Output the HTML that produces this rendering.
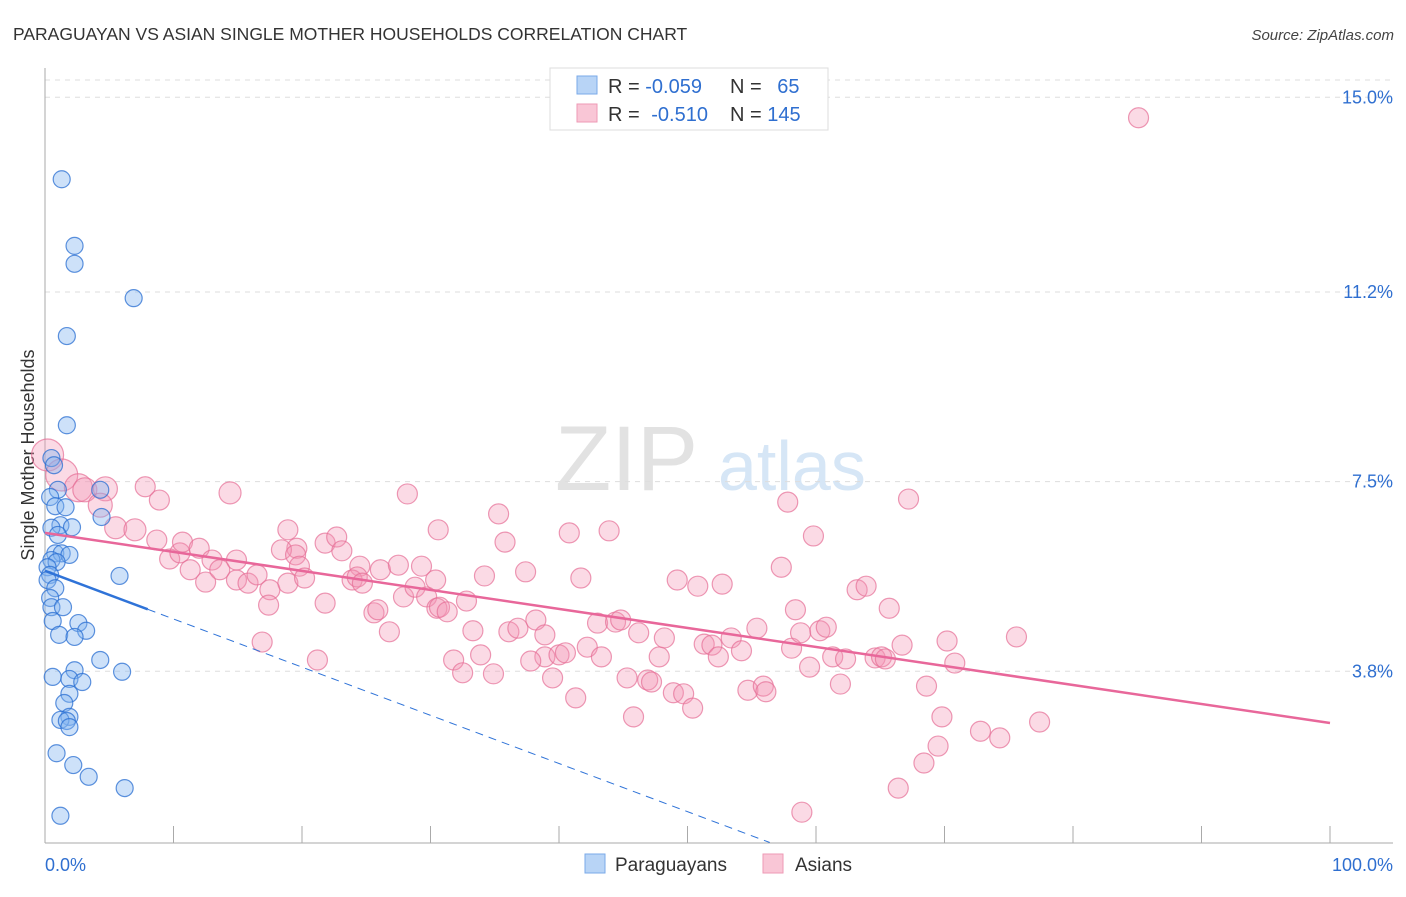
<!DOCTYPE html>
<html><head><meta charset="utf-8"><style>
body{margin:0;background:#fff;font-family:"Liberation Sans",sans-serif;}
svg text{font-family:"Liberation Sans",sans-serif;}
</style></head><body>
<svg id="chart" width="1406" height="892" viewBox="0 0 1406 892" xmlns="http://www.w3.org/2000/svg">
<text x="13" y="40" font-size="17.5" fill="#333">PARAGUAYAN VS ASIAN SINGLE MOTHER HOUSEHOLDS CORRELATION CHART</text>
<text x="1394" y="40" font-size="15" fill="#444" text-anchor="end" font-style="italic">Source: ZipAtlas.com</text>
<text x="555" y="490" font-size="92" fill="#e2e2e2" font-family="Liberation Serif">ZIP</text>
<text x="718" y="490" font-size="70" fill="#d6e6f6">atlas</text>
<text transform="translate(34,455) rotate(-90)" font-size="18" fill="#333" text-anchor="middle">Single Mother Households</text>
<g id="grid"></g>
<g id="axes"></g>
<g id="pinkpts"></g>
<g id="bluepts"></g>
<g id="lines"></g>
<g>
<rect x="550" y="68" width="278" height="62" fill="#fff" stroke="#ddd"/>
<rect x="577" y="76" width="20" height="18" fill="#b8d4f6" stroke="#7aaae8"/>
<rect x="577" y="104" width="20" height="18" fill="#f9c6d6" stroke="#ee9ab5"/>
<text x="608" y="93" font-size="20" fill="#333">R = <tspan fill="#2f6fd0">-0.059</tspan></text>
<text x="730" y="93" font-size="20" fill="#333">N = <tspan fill="#2f6fd0" dx="10">65</tspan></text>
<text x="608" y="121" font-size="20" fill="#333">R = <tspan fill="#2f6fd0" dx="6">-0.510</tspan></text>
<text x="730" y="121" font-size="20" fill="#333">N = <tspan fill="#2f6fd0">145</tspan></text>
</g>
<g>
<rect x="585" y="854" width="20" height="19" fill="#b8d4f6" stroke="#7aaae8"/>
<text x="615" y="871" font-size="19" fill="#333">Paraguayans</text>
<rect x="763" y="854" width="20" height="19" fill="#f9c6d6" stroke="#ee9ab5"/>
<text x="795" y="871" font-size="19" fill="#333">Asians</text>
</g>
<text x="45" y="871" font-size="18" fill="#2f6fd0">0.0%</text>
<text x="1393" y="871" font-size="18" fill="#2f6fd0" text-anchor="end">100.0%</text>
</svg>
<script>
const yTicks=[15.0,11.2,7.5,3.8];
const yTickLabels=["15.0%","11.2%","7.5%","3.8%"];
const xTicks=[0,10,20,30,40,50,60,70,80,90,100];
const blueX=[1.3,2.3,2.3,6.9,1.7,1.7,0.5,0.7,1.0,4.3,0.4,0.8,1.6,4.4,1.2,2.1,0.5,1.0,0.8,1.3,1.9,0.5,0.9,0.2,0.4,0.2,5.8,0.8,0.4,0.5,1.4,0.6,2.6,3.2,1.1,2.3,4.3,2.3,6.0,0.6,1.9,2.9,1.9,1.5,1.9,1.2,1.7,1.9,0.9,2.2,3.4,6.2,1.2];
const blueY=[13.4,12.1,11.75,11.08,10.34,8.6,7.96,7.82,7.34,7.34,7.2,7.02,7.0,6.81,6.65,6.61,6.6,6.46,6.1,6.1,6.07,5.97,5.93,5.83,5.68,5.58,5.66,5.42,5.23,5.05,5.05,4.78,4.74,4.59,4.51,4.47,4.02,3.82,3.79,3.69,3.65,3.59,3.36,3.18,2.91,2.85,2.83,2.71,2.2,1.97,1.74,1.52,0.98];
const pinkX=[0.2,1.3,2.6,3.1,4.7,4.3,5.5,7.0,8.9,7.8,14.4,18.9,19.6,21.8,22.7,23.1,24.5,9.7,10.5,8.7,10.7,12.0,11.3,12.5,13.0,13.6,14.9,14.9,15.8,16.5,17.5,18.4,19.5,19.8,18.9,20.2,17.4,21.8,23.9,24.3,24.7,25.6,25.9,26.8,26.1,27.5,27.9,28.8,29.3,29.7,30.4,30.5,30.7,31.3,32.8,33.3,34.2,35.3,35.8,36.1,36.8,37.4,38.2,38.9,38.9,30.6,28.2,16.9,21.2,31.8,32.5,33.9,34.9,37.8,39.5,40.0,40.5,41.3,40.8,41.7,42.2,43.0,43.3,43.9,44.4,44.8,45.3,45.8,46.2,46.9,47.2,47.8,48.2,48.9,49.2,49.7,50.4,50.8,51.3,51.9,52.4,52.7,53.4,54.2,54.7,55.4,55.9,56.1,57.3,57.8,58.1,58.4,58.8,59.5,59.8,60.3,60.8,61.3,61.9,62.3,63.2,63.9,64.6,65.1,65.4,65.7,66.7,67.2,68.6,69.8,70.2,69.5,68.4,70.8,72.8,74.3,75.6,77.4,66.4,58.9,85.1];
const pinkY=[8.02,7.63,7.38,7.34,7.36,7.04,6.6,6.56,7.14,7.4,7.28,6.56,6.2,6.3,6.42,6.15,5.85,5.99,6.11,6.36,6.32,6.2,5.78,5.54,5.97,5.78,5.58,5.97,5.52,5.68,5.39,6.17,6.07,5.85,5.52,5.62,5.09,5.13,5.58,5.64,5.52,4.94,5.0,4.57,5.78,5.87,5.25,5.44,5.85,5.25,5.58,5.03,5.05,4.96,5.17,4.59,5.66,6.87,6.32,4.57,4.64,5.74,4.8,4.51,4.08,6.56,7.26,4.37,4.02,4.02,3.77,4.12,3.75,4.0,3.67,4.12,4.16,3.28,6.5,5.62,4.27,4.74,4.08,6.54,4.76,4.8,3.67,2.91,4.55,3.63,3.59,4.08,4.45,3.38,5.58,3.36,3.08,5.46,4.33,4.31,4.08,5.5,4.45,4.2,3.43,4.64,3.51,3.4,5.83,7.1,4.25,5.0,4.55,3.88,6.44,4.59,4.66,4.08,3.55,4.04,5.39,5.46,4.06,4.08,4.04,5.03,4.31,7.16,3.51,2.91,4.39,2.34,2.01,3.96,2.63,2.5,4.47,2.81,1.52,1.05,14.6];
const pinkBig=[16,16,14,12,12,12,11,11,10,10,11];
const blueFit=[5.76,-0.094];
const pinkFit=[6.5,-0.0371];
const NS="http://www.w3.org/2000/svg";
function sx(v){return 45+v*12.85;}
function sy(v){return 866-v*51.25;}
function mk(t,a,p){const e=document.createElementNS(NS,t);for(const k in a)e.setAttribute(k,a[k]);p.appendChild(e);return e;}
const grid=document.getElementById('grid');
yTicks.forEach((t,i)=>{
 const l=mk('line',{x1:45,x2:1393,y1:sy(t),y2:sy(t),stroke:'#ddd','stroke-dasharray':'5,5'},grid);
 
 
 const tx=mk('text',{x:1393,y:sy(t)+6,'font-size':18,fill:'#2f6fd0','text-anchor':'end'},grid);
 tx.textContent=yTickLabels[i];
 
 
});
const tl=mk('line',{x1:45,x2:1393,y1:80,y2:80,stroke:'#ddd','stroke-dasharray':'5,5'},grid);


const axes=document.getElementById('axes');
const xa=mk('line',{x1:45,x2:1393,y1:843,y2:843,stroke:'#aaa'},axes);


const ya=mk('line',{x1:45,x2:45,y1:68,y2:843,stroke:'#aaa'},axes);


xTicks.forEach(t=>{
 const l=mk('line',{x1:sx(t),x2:sx(t),y1:826,y2:843,stroke:'#aaa'},axes);
 
 
});
const pg=document.getElementById('pinkpts');
pinkX.forEach((x,i)=>{
 const c=mk('circle',{cx:sx(x),cy:sy(pinkY[i]),r:pinkBig[i]||10,fill:'rgba(244,150,180,0.35)',stroke:'rgba(230,110,150,0.7)','stroke-width':1.2},pg);
 
 
});
const bg=document.getElementById('bluepts');
blueX.forEach((x,i)=>{
 const c=mk('circle',{cx:sx(x),cy:sy(blueY[i]),r:8.5,fill:'rgba(130,180,240,0.4)',stroke:'rgba(40,110,210,0.75)','stroke-width':1.2},bg);
 
 
});
const lg=document.getElementById('lines');
const bEnd=8, bDash=56.4;
const b1=mk('line',{x1:sx(0),y1:sy(blueFit[0]),x2:sx(bEnd),y2:sy(blueFit[0]+blueFit[1]*bEnd),stroke:'#2f73d8','stroke-width':2.5},lg);


const b2=mk('line',{x1:sx(bEnd),y1:sy(blueFit[0]+blueFit[1]*bEnd),x2:sx(bDash),y2:sy(blueFit[0]+blueFit[1]*bDash),stroke:'#2f73d8','stroke-width':1,'stroke-dasharray':'8,6'},lg);


const p1=mk('line',{x1:sx(0),y1:sy(pinkFit[0]),x2:sx(100),y2:sy(pinkFit[0]+pinkFit[1]*100),stroke:'#e8679a','stroke-width':2.5},lg);


</script>
</body></html>
